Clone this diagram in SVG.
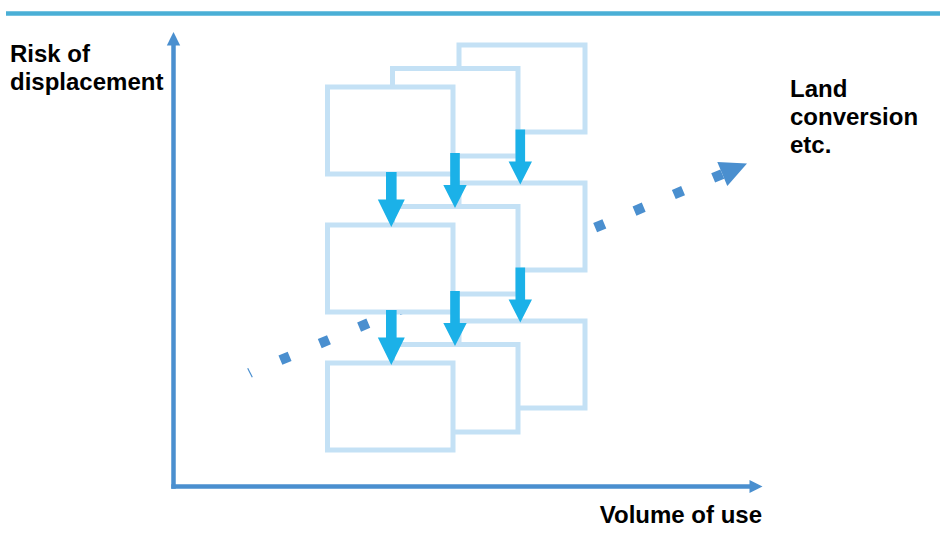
<svg xmlns="http://www.w3.org/2000/svg" width="940" height="534" viewBox="0 0 940 534">
<style>
.box{fill:#ffffff;stroke:#c4e1f5;stroke-width:5}
.ax{stroke:#4a8fcf;stroke-width:4.5;fill:none}
.axh{fill:#4a8fcf}
.down{fill:#1bb1e8}
.lbl{font-family:"Liberation Sans",Arial,Helvetica,sans-serif;font-weight:bold;font-size:24px;fill:#000}
</style>
<defs>
<polygon id="arrBig" points="-5.3,0 5.3,0 5.3,27.5 13.5,27.5 0,55 -13.5,27.5 -5.3,27.5"/>
<polygon id="arrSmall" points="-4.8,0 4.8,0 4.8,32 11.7,32 0,55 -11.7,32 -4.8,32"/>
</defs>
<rect x="0" y="0" width="940" height="534" fill="#ffffff"/>
<line x1="6" y1="13.5" x2="940" y2="13.5" stroke="#4aafd6" stroke-width="4.5"/>
<g id="trend">
<line x1="247.7" y1="368.3" x2="252.3" y2="377.3" stroke="#4a8fcf" stroke-width="1.2"/>
<line x1="280.4" y1="360.2" x2="722.3" y2="174.1" stroke="#4a8fcf" stroke-width="10" stroke-dasharray="10 32.69"/>
<polygon class="axh" points="747,163.5 717.3,162.1 727.3,186.1"/>
</g>
<g id="col3-top"><rect class="box" x="459" y="45" width="126" height="87"/></g>
<g id="col3-mid"><rect class="box" x="459" y="183" width="126" height="87"/></g>
<g id="col3-bot"><rect class="box" x="459" y="321" width="126" height="87"/></g>
<g id="col2-top"><rect class="box" x="392.5" y="68.5" width="125.5" height="87.5"/></g>
<g id="col2-mid"><rect class="box" x="392.5" y="206.5" width="125.5" height="87.5"/></g>
<g id="col2-bot"><rect class="box" x="392.5" y="344.5" width="125.5" height="87.5"/></g>
<g id="col1-top"><rect class="box" x="327.5" y="87" width="125.5" height="87"/></g>
<g id="col1-mid"><rect class="box" x="327.5" y="225" width="125.5" height="87"/></g>
<g id="col1-bot"><rect class="box" x="327.5" y="363" width="125.5" height="87"/></g>
<g id="connectors">
<use href="#arrBig" class="down" x="391.3" y="172"/>
<use href="#arrBig" class="down" x="391.3" y="310"/>
<use href="#arrSmall" class="down" x="455" y="153"/>
<use href="#arrSmall" class="down" x="455" y="291"/>
<use href="#arrSmall" class="down" x="520.3" y="129.5"/>
<use href="#arrSmall" class="down" x="520.3" y="267.5"/>
</g>
<g id="axes">
<line class="ax" x1="173.5" y1="488.7" x2="173.5" y2="44"/>
<polygon class="axh" points="166.8,45.5 180.2,45.5 173.5,32"/>
<line class="ax" x1="171.3" y1="486.5" x2="751" y2="486.5"/>
<polygon class="axh" points="749.5,480 762.5,486.5 749.5,493"/>
</g>
<g id="labels">
<text class="lbl" x="10" y="62">Risk of</text>
<text class="lbl" x="10" y="90">displacement</text>
<text class="lbl" x="790" y="97">Land</text>
<text class="lbl" x="790" y="125">conversion</text>
<text class="lbl" x="790" y="153">etc.</text>
<text class="lbl" x="762" y="523" text-anchor="end">Volume of use</text>
</g>
</svg>
